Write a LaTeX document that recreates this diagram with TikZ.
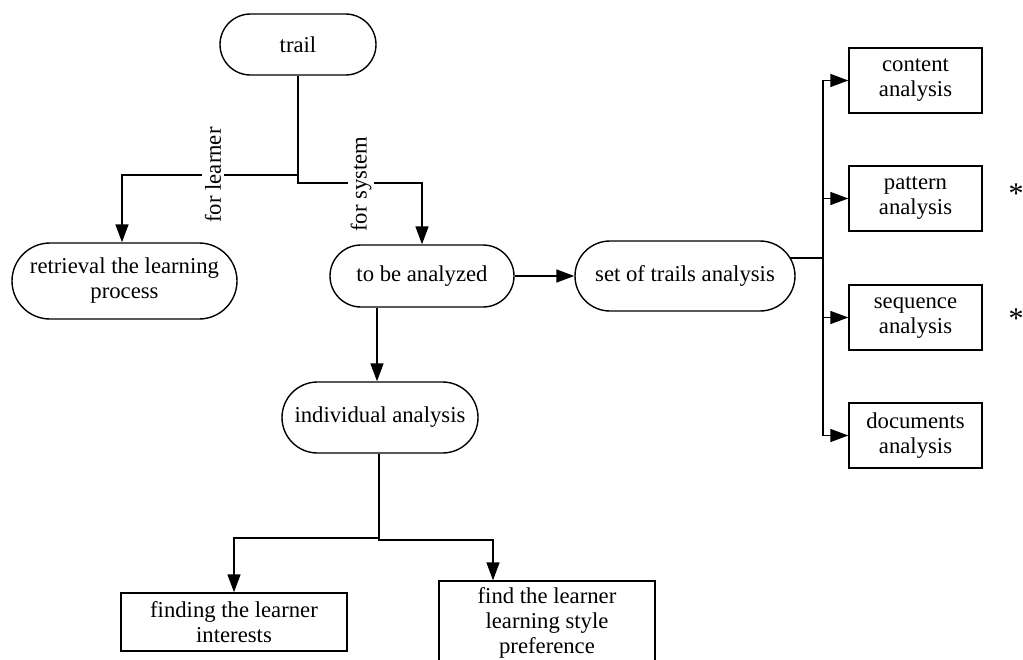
\documentclass[tikz,border=0pt]{standalone}
\usepackage{fontspec}
\setmainfont{Liberation Serif}
\usetikzlibrary{shapes.misc,arrows.meta}
\begin{document}
\begin{tikzpicture}[x=1pt,y=-1pt,
  every node/.style={font=\fontsize{22.7}{25}\selectfont, align=center, inner sep=0pt},
  pill/.style={draw, rounded rectangle, line width=1.4pt},
  boxnode/.style={draw, rectangle, line width=1.4pt},
  link/.style={line width=1.5pt},
  arr/.style={link, -{Triangle[length=18pt,width=13pt]}},
  lbl/.style={fill=white, rotate=90, inner sep=3pt},
  starmark/.style={anchor=base, font=\fontsize{30}{30}\selectfont},
]
\clip (0,0) rectangle (1023,659);
\fill[white] (0,0) rectangle (1023,659);

% flow nodes
\node[pill, minimum width=156, minimum height=61] (trail) at (298,44.5) {trail};
\node[pill, minimum width=225, minimum height=76] (retr) at (124.5,281) {retrieval the learning\\process};
\node[pill, minimum width=184, minimum height=62] (tba) at (422,276) {to be analyzed};
\node[pill, minimum width=220, minimum height=70] (sota) at (685,276) {set of trails analysis};
\node[pill, minimum width=196, minimum height=71] (indiv) at (380,417.5) {individual analysis};

% analysis kinds
\node[boxnode, minimum width=133, minimum height=65] (content) at (915.5,80.5) {content\\analysis};
\node[boxnode, minimum width=133, minimum height=65] (pattern) at (915.5,198.5) {pattern\\analysis};
\node[boxnode, minimum width=133, minimum height=65] (sequence) at (915.5,317.5) {sequence\\analysis};
\node[boxnode, minimum width=133, minimum height=65] (documents) at (915.5,435.5) {documents\\analysis};

% results of the individual analysis
\node[boxnode, minimum width=226, minimum height=58] (finding) at (234,622) {finding the learner\\interests};
\node[boxnode, minimum width=216, minimum height=84] (find) at (547,623) {find the learner\\learning style\\preference};

% branching from the trail
\coordinate (j1) at (298,175);
\coordinate (j2) at (298,183);
\draw[arr] (trail.south) -- (j1) -| ([xshift=-2.5pt]retr.north);
\draw[arr] (j1) -- (j2) -| (tba.north);

\draw[arr] (tba.east) -- (sota.west);
\draw[arr] ([xshift=-3pt]tba.south -| indiv.north) -- ([xshift=-3pt]indiv.north);

% bus to the analysis kinds
\coordinate (bus) at (823,258);
\draw[link] (sota.10 |- bus) -- (bus);
\draw[arr] (bus) |- (content.west);
\draw[arr] (bus) |- (pattern.west);
\draw[arr] (bus) |- (sequence.west);
\draw[arr] (bus) |- (documents.west);

% branching from the individual analysis
\coordinate (k1) at (379,538);
\coordinate (k2) at (379,540);
\draw[arr] (indiv.south -| k1) -- (k1) -| (finding.north);
\draw[arr] (k1) -- (k2) -| ([xshift=-54pt]find.north);

% edge labels
\node[lbl] (fl) at (213,175) {for learner};
\node[lbl] (fs) at (361,184) {for system};

% marks
\node[starmark] (s1) at (1016,203) {*};
\node[starmark] (s2) at (1016,328) {*};
\end{tikzpicture}
\end{document}
